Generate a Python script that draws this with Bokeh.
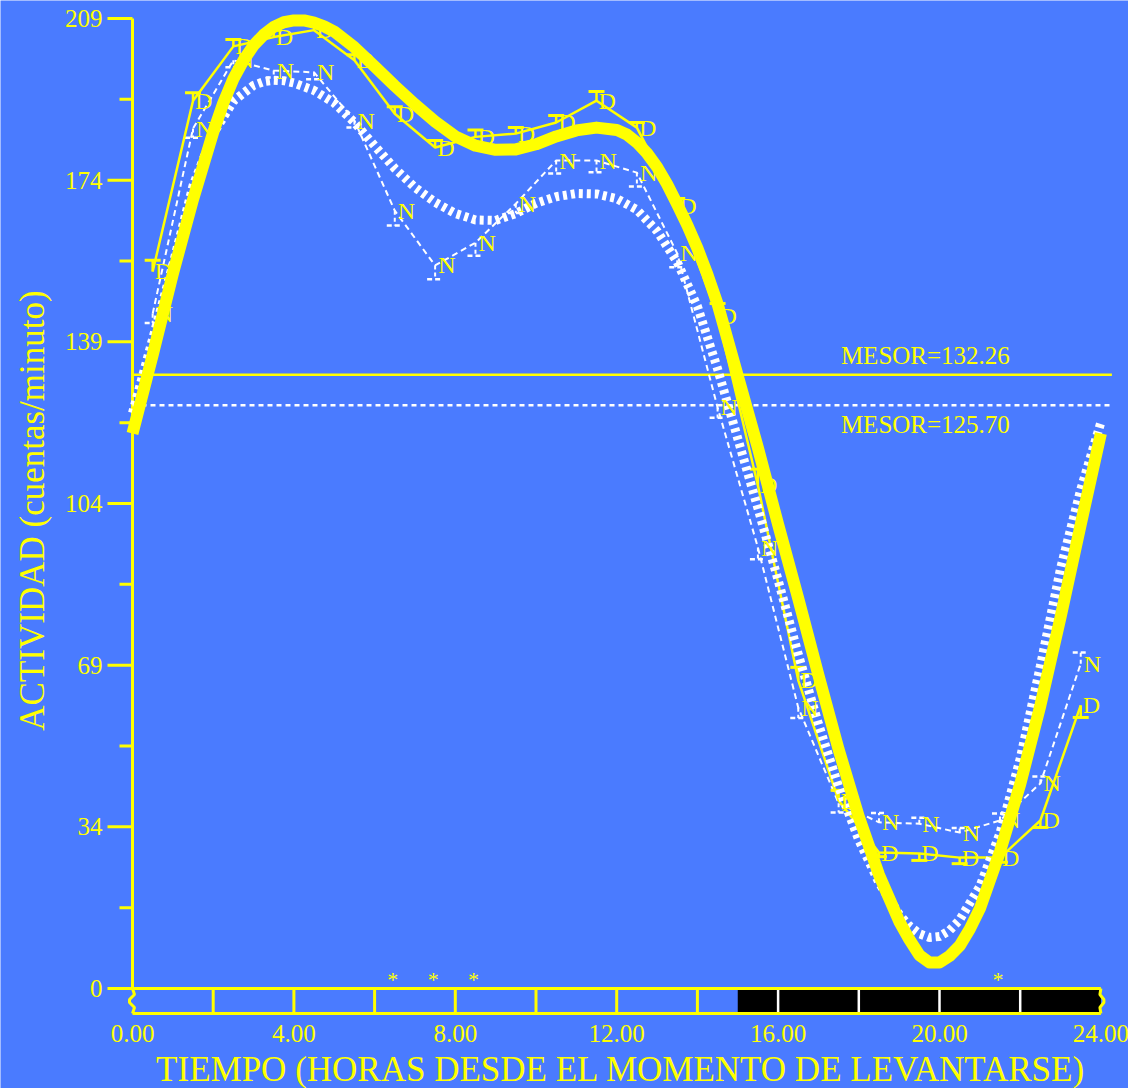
import math

from bokeh.core.properties import value
from bokeh.embed import file_html
from bokeh.models import ColumnDataSource, Range1d
from bokeh.plotting import figure
from bokeh.resources import INLINE

# ---------------------------------------------------------------- data
# hours since waking at which activity was averaged
hours = [0.5, 1.5, 2.5, 3.5, 4.5, 5.5, 6.5, 7.5, 8.5, 9.5, 10.5, 11.5,
         12.5, 13.5, 14.5, 15.5, 16.5, 17.5, 18.5, 19.5, 20.5, 21.5, 22.5, 23.5]

# "D" group: mean activity and standard error
d_mean = [154.5, 191.3, 203.0, 205.0, 206.5, 200.0, 188.5, 181.2, 183.5, 184.2,
          186.6, 191.3, 185.5, 168.7, 145.0, 108.4, 66.4, 40.5, 29.3, 29.1,
          28.2, 28.2, 36.2, 61.0]
d_se = [2.4, 1.7, 1.5, 1.5, 1.2, 1.2, 1.5, 1.5, 1.5, 1.3, 1.5, 2.0,
        1.1, 1.5, 2.6, 3.5, 2.8, 2.2, 0.9, 1.5, 1.3, 1.0, 1.5, 2.6]

# "N" group: mean activity and standard error
n_mean = [145.4, 185.3, 200.0, 197.8, 197.4, 187.0, 167.6, 155.8, 160.7, 169.1,
          178.4, 178.4, 175.8, 158.4, 125.2, 95.0, 60.5, 39.9, 35.8, 35.5,
          33.6, 36.2, 44.2, 70.0]
n_se = [2.0, 2.0, 1.5, 1.5, 1.5, 1.5, 3.2, 3.0, 2.8, 2.0, 2.8, 2.5,
        3.0, 3.0, 2.2, 2.5, 2.2, 2.0, 2.0, 1.3, 1.0, 1.5, 1.5, 2.4]

# fitted cosinor curves (denser sampling where they bend most)
d_fit_hours = [0.0, 0.5, 1.0, 1.5, 2.0, 2.25, 2.5, 2.75,
               3.0, 3.25, 3.5, 3.75, 4.0, 4.25, 4.5, 4.75,
               5.0, 5.5, 6.0, 6.5, 7.0, 7.5, 8.0, 8.5,
               9.0, 9.5, 10.0, 10.5, 11.0, 11.5, 12.0, 12.25,
               12.5, 12.75, 13.0, 13.25, 13.5, 13.75, 14.0, 14.25,
               14.5, 15.0, 15.5, 16.0, 16.5, 17.0, 17.5, 18.0,
               18.5, 19.0, 19.25, 19.5, 19.75, 20.0, 20.25, 20.5,
               20.75, 21.0, 21.5, 22.0, 22.5, 23.0, 23.5, 24.0]
d_fit = [119.6, 136.5, 154.0, 170.0, 184.5, 190.8, 196.0, 200.0,
         203.2, 205.5, 207.2, 208.2, 208.6, 208.6, 208.1, 207.3,
         206.2, 202.8, 198.7, 194.5, 190.5, 186.8, 183.6, 181.6,
         180.7, 180.8, 181.9, 183.6, 184.9, 185.5, 185.0, 184.0,
         182.3, 180.0, 177.0, 173.3, 169.0, 164.5, 159.5, 153.8,
         147.5, 132.0, 116.5, 100.0, 84.0, 67.5, 51.5, 37.0,
         24.5, 14.5, 10.6, 7.2, 5.6, 5.6, 7.0, 9.2,
         12.8, 17.2, 29.5, 44.0, 61.0, 80.0, 100.0, 119.6]

n_fit_hours = [0.0, 0.5, 1.0, 1.5, 2.0, 2.5, 3.0, 3.25, 3.5, 3.75, 4.0, 4.5,
               5.0, 5.5, 6.0, 6.5, 7.0, 7.5, 8.0, 8.5, 9.0, 9.5, 10.0, 10.5,
               11.0, 11.5, 12.0, 12.5, 13.0, 13.5, 14.0, 14.5, 15.0, 15.5,
               16.0, 16.5, 17.0, 17.5, 18.0, 18.5, 19.0, 19.25, 19.5, 19.75,
               20.0, 20.25, 20.5, 21.0, 21.5, 22.0, 22.5, 23.0, 23.5, 24.0]
n_fit = [124.0, 140.0, 156.0, 173.0, 184.2, 191.2, 194.6, 195.4, 195.7, 195.6,
         195.1, 193.5, 190.8, 186.6, 181.6, 176.7, 172.6, 169.4, 167.0, 165.6,
         165.5, 167.0, 169.2, 170.6, 171.3, 171.2, 170.2, 167.8, 163.2, 156.5,
         147.0, 133.5, 118.5, 103.5, 88.0, 72.0, 57.0, 43.5, 32.0, 22.8, 16.0,
         13.5, 11.8, 11.0, 11.2, 12.5, 14.8, 22.0, 33.5, 49.5, 69.5, 90.5,
         107.5, 122.0]

mesor_d = 132.26
mesor_n = 125.70

# hours flagged as significantly different
star_hours = [6.5, 7.5, 8.5, 21.5]

# axis ticks
y_max = 209.0
y_tick_labels = ["0", "34", "69", "104", "139", "174", "209"]
x_ticks = [0, 4, 8, 12, 16, 20, 24]
x_tick_labels = ["0.00", "4.00", "8.00", "12.00", "16.00", "20.00", "24.00"]

# light / dark schedule strip
dark_start, dark_end = 15.0, 24.0
light_dividers = [2, 4, 6, 8, 10, 12, 14]
dark_dividers = [16, 18, 20, 22]

# ---------------------------------------------------------------- style
BG = "#4a7bff"
YEL = "#ffff00"
WHITE = "#ffffff"
BLACK = "#000000"
SERIF = value("Liberation Serif")

W, H = 1128, 1088
X0_PX, PX_PER_H = 132.0, 40.35      # pixel of hour 0, pixels per hour
Y0_PX, PX_PER_U = 988.0, 4.641      # pixel of 0 counts, pixels per count


def hx(px):
    """horizontal pixel distance -> hours"""
    return px / PX_PER_H


def vy(px):
    """vertical pixel distance -> counts/minute"""
    return px / PX_PER_U


p = figure(
    width=W, height=H,
    x_range=Range1d(-X0_PX / PX_PER_H, (W - X0_PX) / PX_PER_H),
    y_range=Range1d((Y0_PX - H) / PX_PER_U, Y0_PX / PX_PER_U),
    min_border=0, toolbar_location=None, output_backend="svg",
    background_fill_color=BG, border_fill_color=BG, outline_line_color=None,
    x_axis_type=None, y_axis_type=None,
)
p.grid.visible = False

# ---------------------------------------------------------------- schedule strip
bar_h = vy(25)
p.quad(left=[dark_start], right=[dark_end], bottom=[-bar_h], top=[0],
       fill_color=BLACK, line_color=None)
p.segment(x0=light_dividers, x1=light_dividers, y0=0, y1=-bar_h,
          line_color=YEL, line_width=3)
p.segment(x0=dark_dividers, x1=dark_dividers, y0=0, y1=-bar_h,
          line_color=WHITE, line_width=2.5)
p.segment(x0=[0, 0], x1=[24, 24], y0=[0, -bar_h], y1=[0, -bar_h],
          line_color=YEL, line_width=3)
# broken-axis squiggles at both ends of the strip
wig_y = [0, -vy(6), -vy(11), -vy(14), -vy(19), -bar_h]
p.line(x=[0, hx(2), hx(-3), hx(-3), hx(2), 0], y=wig_y,
       line_color=YEL, line_width=3)
p.line(x=[24, 24 - hx(1), 24 + hx(3), 24 + hx(3), 24 - hx(1), 24], y=wig_y,
       line_color=YEL, line_width=3)

# ---------------------------------------------------------------- y axis
y_ticks = [y_max * k / 6 for k in range(7)]
y_minor = [y_max * (2 * k + 1) / 12 for k in range(6)]
p.segment(x0=[0], x1=[0], y0=[0], y1=[y_max], line_color=YEL, line_width=3)
p.segment(x0=-hx(25), x1=0, y0=y_ticks, y1=y_ticks, line_color=YEL, line_width=3)
p.segment(x0=-hx(13), x1=0, y0=y_minor, y1=y_minor, line_color=YEL, line_width=3)
p.text(x=-hx(30), y=y_ticks, text=y_tick_labels, text_font=SERIF,
       text_font_size=value("25px"), text_color=YEL,
       text_align="right", text_baseline="middle")
p.text(x=[-hx(100)], y=[vy(Y0_PX - 510)], text=["ACTIVIDAD (cuentas/minuto)"],
       angle=math.pi / 2, text_font=SERIF, text_font_size=value("35px"),
       text_color=YEL, text_align="center", text_baseline="middle")

# ---------------------------------------------------------------- x axis labels
p.text(x=x_ticks, y=-vy(45), text=x_tick_labels, text_font=SERIF,
       text_font_size=value("25px"), text_color=YEL,
       text_align="center", text_baseline="middle")
p.text(x=[12.1], y=[-vy(81)], text=["TIEMPO (HORAS DESDE EL MOMENTO DE LEVANTARSE)"],
       text_font=SERIF, text_font_size=value("35px"), text_color=YEL,
       text_align="center", text_baseline="middle")

# ---------------------------------------------------------------- mesor lines
mesor_end = 24 + hx(11)
p.segment(x0=[0], x1=[mesor_end], y0=[mesor_d], y1=[mesor_d],
          line_color=YEL, line_width=2.5)
p.segment(x0=[0], x1=[mesor_end], y0=[mesor_n], y1=[mesor_n],
          line_color=WHITE, line_width=2.5, line_dash="5 4")
p.text(x=[19.65], y=[mesor_d + vy(19)], text=[f"MESOR={mesor_d:.2f}"],
       text_font=SERIF, text_font_size=value("25px"), text_color=YEL,
       text_align="center", text_baseline="middle")
p.text(x=[19.65], y=[mesor_n - vy(19)], text=[f"MESOR={mesor_n:.2f}"],
       text_font=SERIF, text_font_size=value("25px"), text_color=YEL,
       text_align="center", text_baseline="middle")

# ---------------------------------------------------------------- raw means with SE bars
# each group's SE bar points away from the other group's mean
cap = hx(8)


def se_source(means, ses, others):
    tips = [m + s if m >= o else m - s for m, s, o in zip(means, ses, others)]
    return ColumnDataSource(dict(
        x=hours, m=means, tip=tips,
        cl=[h - cap for h in hours], cr=[h + cap for h in hours],
    ))


n_src = se_source(n_mean, n_se, d_mean)
d_src = se_source(d_mean, d_se, n_mean)

p.line(x="x", y="m", source=n_src, line_color=WHITE, line_width=2, line_dash="6 4")
p.segment(x0="x", x1="x", y0="m", y1="tip", source=n_src,
          line_color=WHITE, line_width=2, line_dash="4 3")
p.segment(x0="cl", x1="cr", y0="tip", y1="tip", source=n_src,
          line_color=WHITE, line_width=2.5, line_dash="5 3")

p.line(x="x", y="m", source=d_src, line_color=YEL, line_width=2.5)
p.segment(x0="x", x1="x", y0="m", y1="tip", source=d_src,
          line_color=YEL, line_width=2.5)
p.segment(x0="cl", x1="cr", y0="tip", y1="tip", source=d_src,
          line_color=YEL, line_width=3)

# ---------------------------------------------------------------- fitted curves and point labels
p.line(x=n_fit_hours, y=n_fit, line_color=WHITE, line_width=9, line_dash="4 4")

p.text(x="x", y="m", text=value("N"), source=n_src, x_offset=3,
       text_font=SERIF, text_font_size=value("24px"), text_color=YEL,
       text_align="left", text_baseline="middle")
p.text(x="x", y="m", text=value("D"), source=d_src, x_offset=2,
       text_font=SERIF, text_font_size=value("24px"), text_color=YEL,
       text_align="left", text_baseline="middle")

p.line(x=d_fit_hours, y=d_fit, line_color=YEL, line_width=12, line_join="round")

# ---------------------------------------------------------------- significance marks
p.text(x=star_hours, y=vy(9), text=value("*"), x_offset=-2,
       text_font=SERIF, text_font_size=value("22px"), text_color=YEL,
       text_align="center", text_baseline="alphabetic")

open("out.html", "w").write(file_html(p, INLINE))
